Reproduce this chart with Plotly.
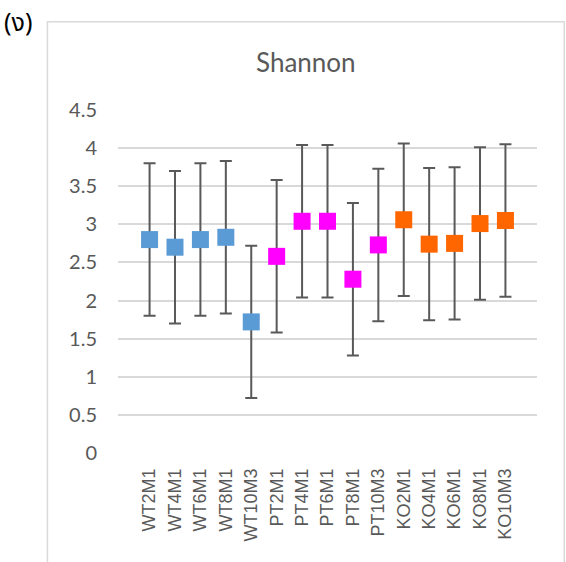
import plotly.graph_objects as go

# Shannon diversity index per sample group (mean and error range)
categories = ["WT2M1", "WT4M1", "WT6M1", "WT8M1", "WT10M3",
              "PT2M1", "PT4M1", "PT6M1", "PT8M1", "PT10M3",
              "KO2M1", "KO4M1", "KO6M1", "KO8M1", "KO10M3"]
shannon = [2.80, 2.70, 2.80, 2.83, 1.72,
           2.58, 3.04, 3.04, 2.28, 2.73,
           3.06, 2.74, 2.75, 3.01, 3.05]
error = [1.0] * 15
group_colors = ["#5B9BD5"] * 5 + ["#FF00FF"] * 5 + ["#FF6600"] * 5
y_ticks = [0, 0.5, 1, 1.5, 2, 2.5, 3, 3.5, 4, 4.5]
y_tick_text = ["0", "0.5", "1", "1.5", "2", "2.5", "3", "3.5", "4", "4.5"]

W, H = 566, 562
L, R, T, B = 118, 536.7, 110.2, 453.3   # plot area in pixels


def px_x(x):
    return (x - L) / (R - L)


def px_y(y):
    return (B - y) / (B - T)


fig = go.Figure()
fig.add_trace(go.Scatter(
    x=categories,
    y=shannon,
    mode="markers",
    marker=dict(symbol="square", size=17, color=group_colors, line=dict(width=0)),
    error_y=dict(type="data", array=error, symmetric=True,
                 color="#595959", thickness=2, width=6),
    showlegend=False,
    hoverinfo="x+y",
))

axis_font = dict(family="Lato, 'Open Sans', sans-serif", size=20, color="#595959")

fig.update_layout(
    width=W, height=H,
    margin=dict(l=L, r=W - R, t=T, b=H - B, pad=0),
    paper_bgcolor="white",
    plot_bgcolor="white",
    xaxis=dict(
        type="category",
        showgrid=False, zeroline=False, showline=False,
        tickangle=-90,
        tickfont=dict(family="'Liberation Sans', Arial, sans-serif", size=18, color="#595959"),
        ticks="", ticklabelstandoff=11,
        fixedrange=True,
    ),
    yaxis=dict(
        range=[0, 4.5],
        tickvals=y_ticks, ticktext=y_tick_text,
        showgrid=True, gridcolor="#D9D9D9", gridwidth=1.5,
        zeroline=False, showline=False,
        tickfont=axis_font,
        ticks="", ticklabelstandoff=20,
        fixedrange=True,
    ),
    shapes=[
        # chart frame
        dict(type="rect", xref="paper", yref="paper",
             x0=px_x(47.5), x1=px_x(564), y0=px_y(600), y1=px_y(22),
             line=dict(color="#D9D9D9", width=1.5), fillcolor="rgba(0,0,0,0)",
             layer="below"),
    ],
    annotations=[
        dict(text="Shannon", xref="paper", yref="paper",
             x=px_x(306), y=px_y(62), xanchor="center", yanchor="middle",
             showarrow=False,
             font=dict(family="Lato, 'Open Sans', sans-serif", size=26, color="#595959")),
        dict(text="(ง)", xref="paper", yref="paper",
             x=px_x(2), y=px_y(23), xanchor="left", yanchor="middle",
             showarrow=False,
             font=dict(family="'Noto Sans Thai', 'Noto Sans', 'DejaVu Sans', sans-serif",
                       size=25, color="#000000")),
    ],
)

fig.write_html("out.html")
